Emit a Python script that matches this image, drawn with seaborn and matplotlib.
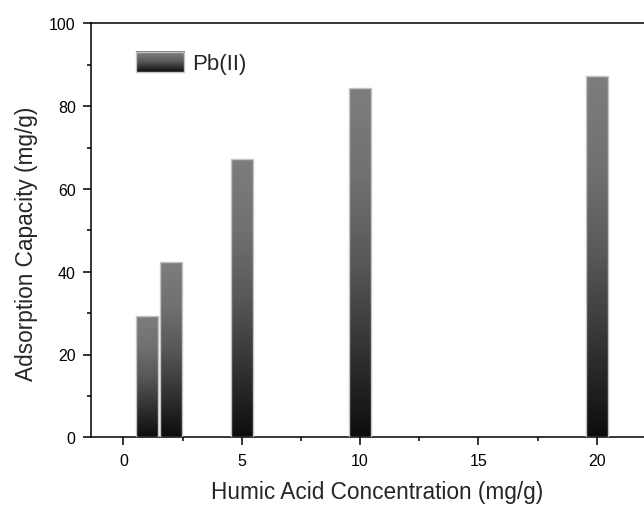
import numpy as np
import pandas as pd
import matplotlib
matplotlib.use("Agg")
import matplotlib.pyplot as plt
import seaborn as sns
from matplotlib.colors import LinearSegmentedColormap
from matplotlib.image import BboxImage
from matplotlib.transforms import Bbox, TransformedBbox
from matplotlib.legend_handler import HandlerPatch
from matplotlib.patches import Rectangle
from matplotlib.ticker import MultipleLocator

# ---- data ----
concentration = [1, 2, 5, 10, 20]
capacity = [29.4, 42.4, 67.3, 84.3, 87.3]
series_name = "Pb(II)"
x_ticks = [0, 5, 10, 15, 20]
y_ticks = [0, 20, 40, 60, 80, 100]
x_label = "Humic Acid Concentration (mg/g)"
y_label = "Adsorption Capacity (mg/g)"

sns.set_theme(style="ticks")
plt.rcParams["font.family"] = ["Liberation Sans", "DejaVu Sans"]

grad_cmap = LinearSegmentedColormap.from_list(
    "grad", [(0, "#0d0d0d"), (0.25, "#333333"), (0.5, "#585858"),
             (0.75, "#717171"), (1, "#7d7d7d")])
gradient = np.linspace(0, 1, 512).reshape(-1, 1)
edge_col = "#c4c4c4"

fig = plt.figure(figsize=(6.44, 5.06), dpi=100)
ax = fig.add_axes([91 / 644, 67.7 / 506, 572 / 644, 414 / 506])

df = pd.DataFrame({"conc": concentration, "cap": capacity})
sns.barplot(data=df, x="conc", y="cap", native_scale=True, width=0.93,
            color="#666666", edgecolor=edge_col, linewidth=1.0, ax=ax,
            errorbar=None, zorder=3)

for p in list(ax.patches):
    x0, y0 = p.get_x(), p.get_y()
    w, h = p.get_width(), p.get_height()
    pad_x, pad_y = 0.3, 3.0
    ext_top = y0 + h + pad_y
    g = np.clip(np.linspace(-pad_y / h, (h + pad_y) / h, 512), 0, 1)
    im = ax.imshow(g.reshape(-1, 1),
                   extent=[x0 - pad_x, x0 + w + pad_x, y0 - pad_y, ext_top],
                   origin="lower", aspect="auto", cmap=grad_cmap,
                   vmin=0, vmax=1, zorder=2, interpolation="nearest")
    im.set_clip_path(p)
    p.set_facecolor("none")


class GradientHandler(HandlerPatch):
    def create_artists(self, legend, orig_handle, xdescent, ydescent,
                       width, height, fontsize, trans):
        bb = Bbox.from_bounds(-xdescent, -ydescent, width, height)
        img = BboxImage(TransformedBbox(bb, trans), cmap=grad_cmap,
                        interpolation="nearest", origin="lower")
        img.set_data(gradient)
        img.set_clim(0, 1)
        rect = Rectangle((-xdescent, -ydescent), width, height,
                         facecolor="none", edgecolor=edge_col, lw=1.0,
                         transform=trans)
        return [img, rect]


handle = Rectangle((0, 0), 1, 1, facecolor="#555555")
ax.legend([handle], [series_name], handler_map={Rectangle: GradientHandler()},
          loc="center left", bbox_to_anchor=(0.078, 0.904), frameon=False,
          fontsize=16, handlelength=2.19, handleheight=1.05, handletextpad=0.35,
          borderpad=0, borderaxespad=0)

ax.set_xlim(-1.37, 22.8)
ax.set_ylim(0, 100)
ax.set_xticks(x_ticks)
ax.set_yticks(y_ticks)
ax.xaxis.set_minor_locator(MultipleLocator(2.5))
ax.yaxis.set_minor_locator(MultipleLocator(10))
ax.tick_params(which="major", direction="out", length=5.5, width=1.1,
               pad=5.5, labelsize=11.5, color="black", labelcolor="black")
ax.tick_params(which="minor", direction="out", length=3, width=1.1,
               color="black")
for s in ax.spines.values():
    s.set_linewidth(1.1)
    s.set_color("black")
ax.set_xlabel(x_label, fontsize=16.3)
ax.set_ylabel(y_label, fontsize=16.3)
ax.xaxis.set_label_coords(0.5, -0.104)
ax.yaxis.set_label_coords(-0.093, 0.47)

fig.savefig("out.png", dpi=100)
